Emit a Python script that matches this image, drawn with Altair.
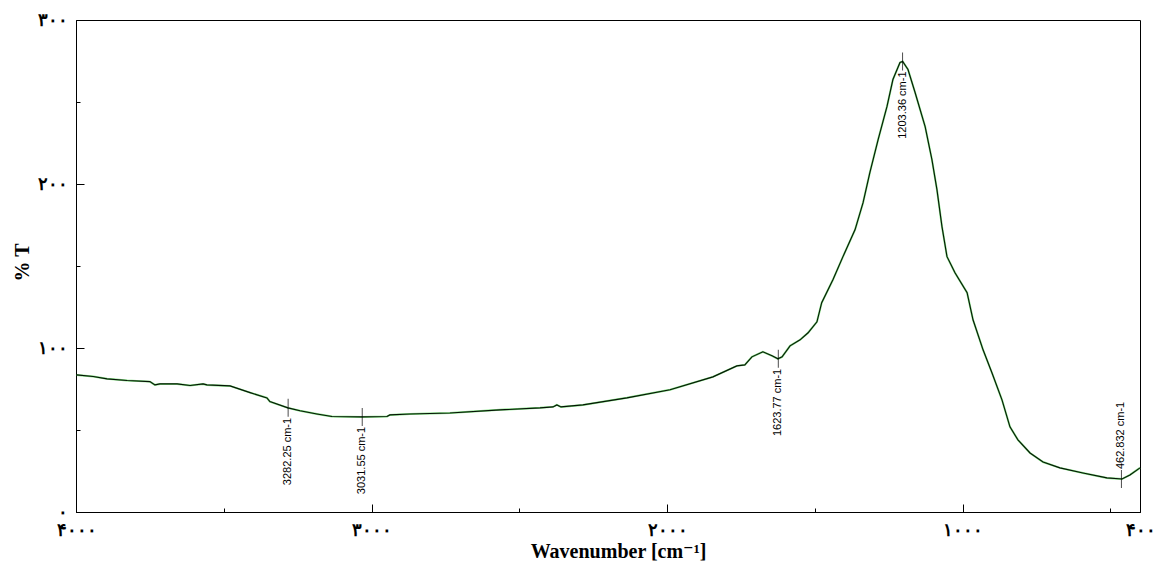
import altair as alt
import pandas as pd

# ---- spectrum ----
wavenumber = [3998, 3942, 3895, 3827, 3750, 3733, 3716, 3658, 3614, 3570,
              3557, 3479, 3411, 3354, 3344, 3283, 3242, 3185, 3134, 3032,
              2948, 2938, 2870, 2735, 2565, 2430, 2386, 2373, 2359, 2285,
              2136, 1990, 1845, 1764, 1737, 1713, 1676, 1645, 1625, 1611,
              1584, 1550, 1523, 1493, 1477, 1439, 1405, 1364, 1337, 1314,
              1286, 1256, 1236, 1212, 1203, 1185, 1161, 1127, 1104, 1087,
              1070, 1053, 1026, 985, 965, 931, 901, 867, 840, 813,
              772, 728, 671, 593, 512, 461, 434, 400]
transmittance = [83.6, 82.6, 81.2, 80.2, 79.5, 77.5, 78.1, 78.1, 77.1, 78.1,
                 77.5, 76.9, 72.8, 69.6, 67.3, 63.5, 61.7, 59.8, 58.2, 58.0,
                 58.2, 59.2, 59.8, 60.4, 62.3, 63.5, 64.1, 65.3, 64.1, 65.3,
                 69.6, 74.5, 82.4, 89.1, 89.7, 94.6, 97.7, 95.2, 93.4, 94.6,
                 101.3, 105.0, 109.3, 116.0, 127.6, 141.6, 155.7, 172.2, 188.6, 207.0,
                 227.1, 247.3, 263.7, 274.1, 274.7, 269.8, 255.8, 235.0, 214.9, 196.6,
                 174.0, 155.7, 145.9, 133.7, 117.2, 98.9, 84.9, 68.4, 51.9, 44.0,
                 36.0, 30.5, 26.9, 23.8, 20.8, 20.1, 22.6, 26.9]

# ---- peak annotations ----
peak_wn = [3282.25, 3031.55, 1623.77, 1203.36, 462.832]
peak_T = [63.5, 58.0, 93.4, 274.7, 20.1]
peak_labels = ["3282.25 cm-1", "3031.55 cm-1", "1623.77 cm-1", "1203.36 cm-1", "462.832 cm-1"]
peak_side = ["below", "below", "below", "below", "above"]

# ---- axis ticks / labels ----
x_tick_values = [4000, 3500, 3000, 2500, 2000, 1500, 1000, 500, 400]
x_major = [4000, 3000, 2000, 1000, 400]
x_major_labels = ["۴۰۰۰", "۳۰۰۰", "۲۰۰۰", "۱۰۰۰", "۴۰۰"]
y_tick_values = [0, 50, 100, 150, 200, 250, 300]
y_major = [0, 100, 200, 300]
y_major_labels = ["۰", "۱۰۰", "۲۰۰", "۳۰۰"]


def label_expr(vals, labs):
    s = "''"
    for v, l in reversed(list(zip(vals, labs))):
        s = f"datum.value == {v} ? '{l}' : {s}"
    return s


def tick_expr(major):
    return f"indexof({list(major)}, datum.value) >= 0 ? -8 : -4"


spec_df = pd.DataFrame({"wavenumber": wavenumber, "T": transmittance})
peak_df = pd.DataFrame({"wavenumber": peak_wn, "T": peak_T,
                        "label": peak_labels, "side": peak_side})

serif = "Times New Roman, Liberation Serif, DejaVu Serif"

x_enc = alt.X(
    "wavenumber:Q",
    scale=alt.Scale(domain=[4000, 400], nice=False, zero=False),
    axis=alt.Axis(
        values=x_tick_values,
        labelExpr=label_expr(x_major, x_major_labels),
        tickSize=alt.ExprRef(expr=tick_expr(x_major)),
        labelPadding=17,
        labelFlush=False,
        labelOverlap=False,
        labelFont=serif,
        labelFontSize=18,
        labelFontWeight="bold",
        labelColor="black",
        domainColor="black",
        tickColor="black",
        grid=False,
        title="Wavenumber [cm⁻¹]",
        titleFont=serif,
        titleFontSize=20,
        titleFontWeight="bold",
        titleColor="black",
        titleX=542,
        titleY=39,
        titleAlign="center",
        titleBaseline="middle",
    ),
)

y_enc = alt.Y(
    "T:Q",
    scale=alt.Scale(domain=[0, 300], nice=False, zero=False),
    axis=alt.Axis(
        values=y_tick_values,
        labelExpr=label_expr(y_major, y_major_labels),
        tickSize=alt.ExprRef(expr=tick_expr(y_major)),
        labelPadding=17,
        labelOverlap=False,
        labelFlush=False,
        labelFont=serif,
        labelFontSize=18,
        labelFontWeight="bold",
        labelColor="black",
        domainColor="black",
        tickColor="black",
        grid=False,
        title="% T",
        titleFont=serif,
        titleFontSize=20,
        titleFontWeight="bold",
        titleColor="black",
        titleX=-54,
        titleY=242,
        titleAlign="center",
        titleBaseline="middle",
    ),
)

base = alt.Chart(spec_df)
line_glow = base.mark_line(color="#3ccf3c", strokeWidth=2.0, opacity=0.65).encode(x=x_enc, y=y_enc)
line_core = base.mark_line(color="#061406", strokeWidth=1.1).encode(x="wavenumber:Q", y="T:Q")

pk = alt.Chart(peak_df)
markers = pk.mark_tick(orient="vertical", size=18, thickness=1, color="black").encode(
    x="wavenumber:Q", y="T:Q")
lab_below = pk.transform_filter(alt.datum.side == "below").mark_text(
    angle=270, align="right", baseline="middle", dx=-10,
    font="Liberation Sans, Arial", fontSize=11, color="black"
).encode(x="wavenumber:Q", y="T:Q", text="label:N")
lab_above = pk.transform_filter(alt.datum.side == "above").mark_text(
    angle=270, align="left", baseline="middle", dx=10,
    font="Liberation Sans, Arial", fontSize=11, color="black"
).encode(x="wavenumber:Q", y="T:Q", text="label:N")

chart = alt.layer(line_glow, line_core, markers, lab_below, lab_above).properties(
    width=1064,
    height=492,
    autosize=alt.AutoSizeParams(type="none"),
    padding={"left": 68, "top": 12, "right": 14, "bottom": 49},
    background="white",
).configure_view(stroke="black", strokeWidth=1)

chart.save("out.html", embed_options={"renderer": "svg", "actions": False})
